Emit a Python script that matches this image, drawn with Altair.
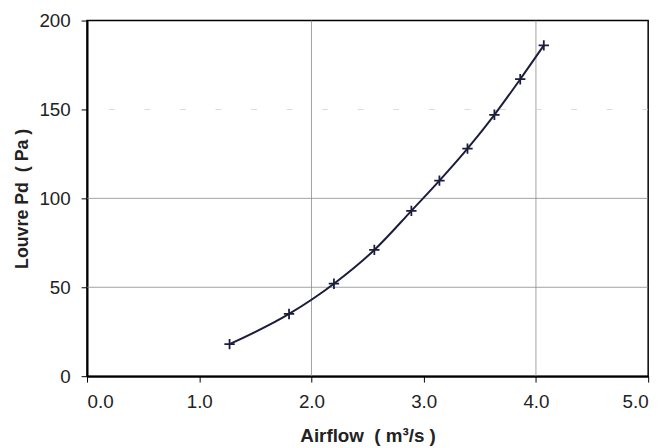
import altair as alt
import pandas as pd

airflow = [1.27, 1.80, 2.20, 2.56, 2.89, 3.14, 3.39, 3.63, 3.86, 4.07]
louvre_pd = [18, 35, 52, 71, 93, 110, 128, 147, 167, 186]
x_ticks = [0, 1, 2, 3, 4, 5]
y_ticks = [0, 50, 100, 150, 200]
x_grid = [2, 4]
y_grid = [50, 100]
y_grid_faint = [150]

df = pd.DataFrame({"x": airflow, "y": louvre_pd})
FONT = "Liberation Sans"
INK = "#1b1d3d"
NB = "\u00a0"

xs = alt.Scale(domain=[0, 5], nice=False)
ys = alt.Scale(domain=[0, 200], nice=False)

xgrid = alt.Chart(pd.DataFrame({"x": x_grid})).mark_rule(color="#8a8a8a", strokeWidth=0.8).encode(
    x=alt.X("x:Q", scale=xs))
ygrid = alt.Chart(pd.DataFrame({"y": y_grid})).mark_rule(color="#8a8a8a", strokeWidth=0.8).encode(
    y=alt.Y("y:Q", scale=ys))
ygrid2 = alt.Chart(pd.DataFrame({"y": y_grid_faint})).mark_rule(
    color="#d0d0d0", strokeWidth=0.8, strokeDash=[6, 30]).encode(y=alt.Y("y:Q", scale=ys))

line = alt.Chart(df).mark_line(color=INK, strokeWidth=2, interpolate="monotone").encode(
    x=alt.X("x:Q", scale=xs,
            axis=alt.Axis(values=x_ticks, format=".1f",
                          title=f"Airflow{NB}{NB}({NB}m³/s{NB})", grid=False,
                          titleFontSize=19, labelPadding=11, titlePadding=15)),
    y=alt.Y("y:Q", scale=ys,
            axis=alt.Axis(values=y_ticks, format="d",
                          title=f"Louvre{NB}Pd{NB}{NB}({NB}Pa{NB})", grid=False,
                          titleFontSize=18, labelPadding=11, titlePadding=8)),
)
pts = alt.Chart(df).mark_point(
    shape="M-1,0L1,0M0,-1L0,1", size=110, color=INK, strokeWidth=1.8, filled=False, opacity=1
).encode(x=alt.X("x:Q", scale=xs), y=alt.Y("y:Q", scale=ys))

chart = alt.layer(xgrid, ygrid, ygrid2, line, pts).properties(
    width=568, height=360,
    autosize=alt.AutoSizeParams(type="none"),
    padding={"left": 80, "top": 10, "right": 14, "bottom": 70},
).configure_view(stroke="black", strokeWidth=1.5).configure_axis(
    domainColor="black", domainWidth=2, tickColor="black", tickSize=6, tickWidth=1,
    labelFont=FONT, labelFontSize=19, labelColor="#222",
    titleFont=FONT, titleFontWeight="bold", titleColor="#222",
)

chart.save("out.html", embed_options={"renderer": "svg", "actions": False})
